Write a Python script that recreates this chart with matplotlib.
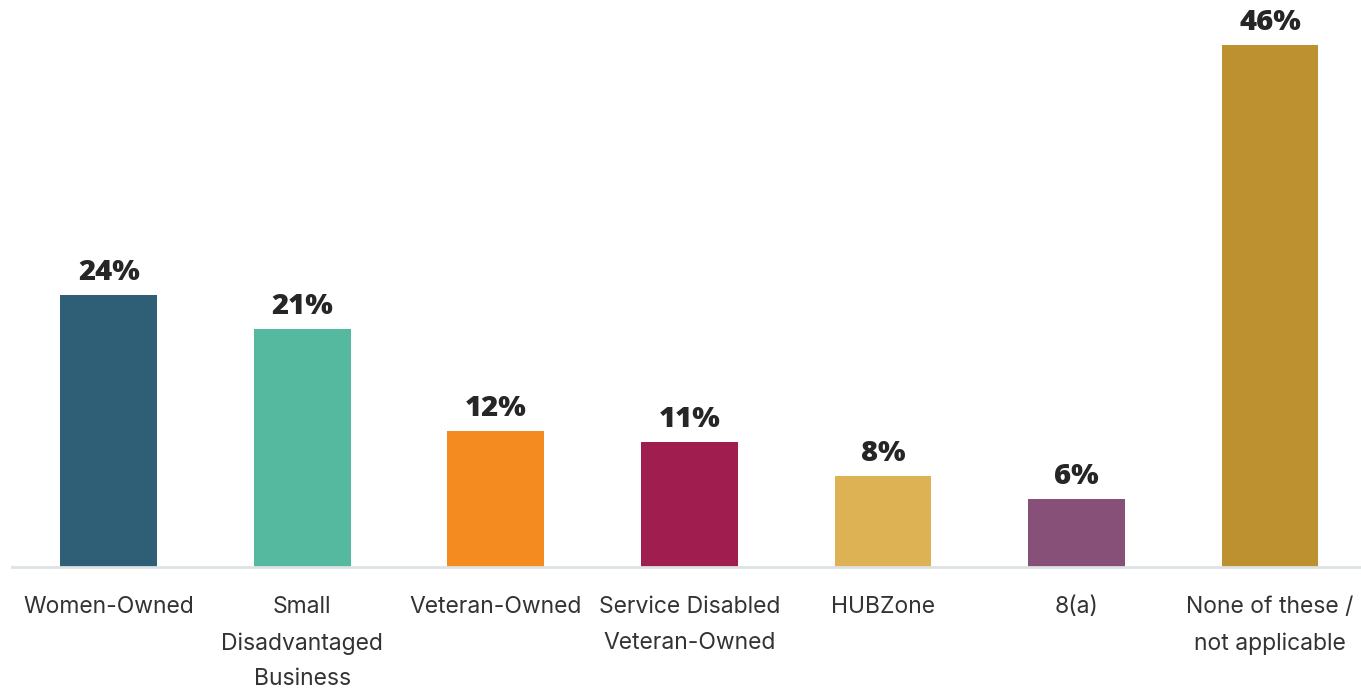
import matplotlib.pyplot as plt

# Survey shares by business certification (%)
categories = ["Women-Owned", "Small\nDisadvantaged\nBusiness", "Veteran-Owned",
              "Service Disabled\nVeteran-Owned", "HUBZone", "8(a)",
              "None of these /\nnot applicable"]
shares = [24, 21, 12, 11, 8, 6, 46]
colors = ["#2e5f76", "#55b9a0", "#f38b21", "#a01d4f", "#dcb255", "#875079", "#bd912f"]

fig = plt.figure(figsize=(13.61, 6.88), dpi=100)
ax = fig.add_axes([12 / 1361, 121 / 688, 1349 / 1361, 567 / 688])

x = range(len(categories))
bars = ax.bar(x, shares, width=0.5, color=colors, zorder=2)

for b, v in zip(bars, shares):
    ax.annotate(f"{v}%", (b.get_x() + b.get_width() / 2, v),
                xytext=(0, 6), textcoords="offset points",
                ha="center", va="bottom", fontsize=21, fontweight="heavy",
                family="Open Sans", color="#262626")

ax.set_xlim(-0.5, 6.47)
ax.set_ylim(0, 50)
ax.set_xticks(list(x))
ax.set_xticklabels(categories, fontsize=16.5, family="Inter", color="#333333",
                   linespacing=1.8, va="top")
ax.tick_params(axis="x", length=0, pad=21)
ax.set_yticks([])

for side in ["top", "right", "left"]:
    ax.spines[side].set_visible(False)
ax.spines["bottom"].set_color("#dde2e4")
ax.spines["bottom"].set_linewidth(2)

fig.savefig("out.png", dpi=100)
